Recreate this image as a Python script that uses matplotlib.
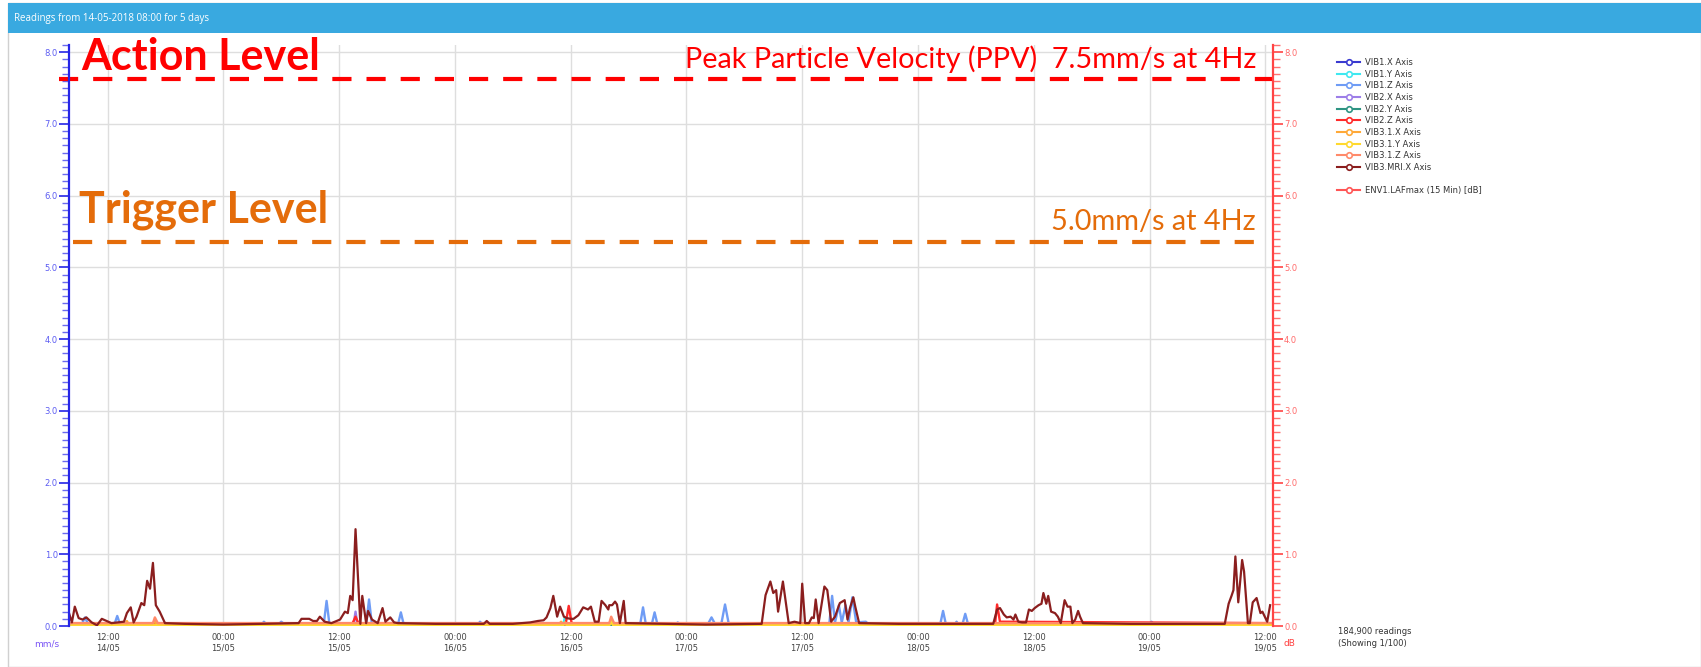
import matplotlib
matplotlib.use("Agg")
import matplotlib.pyplot as plt
import matplotlib.dates as mdates
from matplotlib.lines import Line2D
from matplotlib.patches import Rectangle
from matplotlib.ticker import MultipleLocator
import pandas as pd

W, H = 1701, 667
start = pd.Timestamp("2018-05-14 08:00")
end_hours = 124.8

# (hours since 14/05 08:00, mm/s)
vib1_x = [(0, 0.01), (124.8, 0.01)]
vib1_y = [(0, 0.01), (51.2, 0.01), (51.4, 0.12), (51.6, 0.01), (124.8, 0.01)]
vib1_z = [(0, 0.02), (1.3, 0.02), (1.66, 0.12), (2.0, 0.02), (4.7, 0.02), (5.0, 0.14), (5.3, 0.02),
          (20.0, 0.02), (20.2, 0.06), (20.5, 0.02), (21.7, 0.02), (22.0, 0.06), (22.4, 0.02),
          (26.4, 0.02), (26.7, 0.35), (27.0, 0.02), (30.8, 0.02), (31.1, 0.37), (31.4, 0.02),
          (34.1, 0.02), (34.4, 0.19), (34.7, 0.02), (42.4, 0.02), (42.6, 0.06), (42.9, 0.02),
          (59.2, 0.02), (59.5, 0.26), (59.8, 0.02), (60.4, 0.02), (60.7, 0.19), (61.0, 0.02),
          (62.9, 0.02), (63.1, 0.05), (63.3, 0.02), (66.2, 0.02), (66.6, 0.12), (67.0, 0.02),
          (67.6, 0.02), (68.0, 0.3), (68.4, 0.02), (78.8, 0.02), (79.1, 0.42), (79.4, 0.05),
          (79.8, 0.29), (80.1, 0.05), (80.5, 0.29), (80.8, 0.05), (81.2, 0.4), (81.6, 0.05),
          (82.6, 0.06), (82.9, 0.02), (90.3, 0.02), (90.6, 0.21), (90.9, 0.02), (91.8, 0.02),
          (92.0, 0.06), (92.2, 0.02), (92.6, 0.02), (92.9, 0.17), (93.2, 0.02), (112.0, 0.02),
          (112.2, 0.06), (112.5, 0.02), (124.8, 0.02)]
vib2_x = [(0, 0.02), (29.5, 0.02), (29.7, 0.2), (29.9, 0.02), (124.8, 0.02)]
vib2_y = [(0, 0.0), (124.8, 0.0)]
vib2_z = [(0, 0.04), (29.4, 0.04), (29.7, 0.13), (30.0, 0.04), (51.5, 0.04), (51.8, 0.28), (52.1, 0.04),
          (96.0, 0.04), (96.2, 0.3), (96.5, 0.06), (124.8, 0.04)]
vib31_x = [(0, 0.02), (5.8, 0.02), (6.0, 0.07), (6.2, 0.02), (8.7, 0.02), (8.9, 0.08), (9.1, 0.02),
           (50.8, 0.02), (51.0, 0.06), (51.2, 0.02), (56.0, 0.02), (56.2, 0.1), (56.4, 0.02), (124.8, 0.02)]
vib31_y = [(0, 0.01), (51.2, 0.01), (51.4, 0.05), (51.6, 0.01), (56.0, 0.01), (56.2, 0.06), (56.4, 0.01),
           (124.8, 0.01)]
vib31_z = [(0, 0.04), (8.7, 0.04), (8.9, 0.12), (9.2, 0.04), (56.0, 0.04), (56.2, 0.13), (56.5, 0.04),
           (124.8, 0.04)]
vib3_mri_x = [(0, 0.18), (0.3, 0.05), (0.6, 0.27), (1.0, 0.11), (1.4, 0.09), (1.8, 0.12), (2.35, 0.05),
              (2.9, 0.01), (3.4, 0.1), (3.9, 0.07), (4.4, 0.04), (5.1, 0.05), (5.7, 0.06), (6.0, 0.18),
              (6.4, 0.26), (6.7, 0.05), (7.0, 0.13), (7.5, 0.32), (7.8, 0.29), (8.1, 0.63), (8.4, 0.52),
              (8.7, 0.88), (9.0, 0.29), (9.4, 0.2), (9.95, 0.04), (12, 0.03), (16, 0.02), (20, 0.03),
              (23.8, 0.04), (24.1, 0.1), (24.9, 0.1), (25.3, 0.07), (25.7, 0.07), (26.0, 0.13),
              (26.5, 0.06), (27.2, 0.04), (28.1, 0.09), (28.6, 0.2), (28.9, 0.18), (29.15, 0.42),
              (29.4, 0.36), (29.7, 1.35), (30.0, 0.55), (30.2, 0.03), (30.4, 0.42), (30.8, 0.04),
              (31.0, 0.21), (31.4, 0.09), (32.0, 0.04), (32.5, 0.25), (32.8, 0.06), (33.3, 0.12),
              (33.7, 0.05), (34.1, 0.04), (38, 0.03), (43.0, 0.03), (43.3, 0.07), (43.6, 0.03),
              (46, 0.03), (47.8, 0.05), (48.6, 0.07), (49.2, 0.08), (49.5, 0.12), (49.9, 0.25),
              (50.2, 0.42), (50.6, 0.13), (50.9, 0.27), (51.3, 0.13), (51.6, 0.11), (52.0, 0.1),
              (52.3, 0.1), (52.8, 0.15), (53.3, 0.26), (53.8, 0.23), (54.1, 0.27), (54.5, 0.06),
              (54.9, 0.06), (55.2, 0.35), (55.6, 0.29), (55.9, 0.23), (56.0, 0.29), (56.3, 0.29),
              (56.6, 0.34), (56.8, 0.3), (57.1, 0.04), (57.5, 0.35), (57.7, 0.04), (62, 0.03),
              (66, 0.02), (71.8, 0.03), (72.2, 0.43), (72.7, 0.62), (73.0, 0.46), (73.3, 0.5),
              (73.5, 0.2), (74.0, 0.62), (74.4, 0.23), (74.6, 0.04), (75.2, 0.06), (75.8, 0.04),
              (76.0, 0.59), (76.3, 0.04), (76.7, 0.04), (77.0, 0.12), (77.2, 0.11), (77.4, 0.37),
              (77.7, 0.04), (78.0, 0.3), (78.3, 0.55), (78.6, 0.5), (79.0, 0.06), (79.4, 0.13),
              (79.9, 0.32), (80.4, 0.36), (80.7, 0.09), (80.95, 0.25), (81.3, 0.4), (81.5, 0.27),
              (81.9, 0.04), (86, 0.03), (90, 0.03), (95.8, 0.03), (96.2, 0.23), (96.5, 0.25),
              (96.9, 0.16), (97.2, 0.12), (97.6, 0.13), (97.9, 0.09), (98.1, 0.16), (98.4, 0.06),
              (98.8, 0.05), (99.2, 0.05), (99.5, 0.23), (99.8, 0.21), (100.1, 0.25), (100.5, 0.29),
              (100.8, 0.31), (101.0, 0.46), (101.3, 0.31), (101.5, 0.42), (101.8, 0.2), (102.2, 0.18),
              (102.5, 0.13), (102.8, 0.04), (103.2, 0.36), (103.5, 0.27), (103.8, 0.27), (104.0, 0.04),
              (104.3, 0.09), (104.6, 0.21), (104.8, 0.13), (105.1, 0.04), (110, 0.03), (115, 0.03),
              (119.8, 0.03), (120.2, 0.31), (120.5, 0.42), (120.7, 0.5), (120.9, 0.97), (121.2, 0.33),
              (121.6, 0.92), (121.8, 0.76), (122.2, 0.04), (122.4, 0.04), (122.7, 0.33), (123.1, 0.39),
              (123.5, 0.18), (123.7, 0.2), (124.2, 0.06), (124.5, 0.29)]
env1_lafmax = []  # dB, nothing visible

series_names = ["VIB1.X Axis", "VIB1.Y Axis", "VIB1.Z Axis", "VIB2.X Axis", "VIB2.Y Axis",
                "VIB2.Z Axis", "VIB3.1.X Axis", "VIB3.1.Y Axis", "VIB3.1.Z Axis", "VIB3.MRI.X Axis"]
series_data = [vib1_x, vib1_y, vib1_z, vib2_x, vib2_y, vib2_z, vib31_x, vib31_y, vib31_z, vib3_mri_x]
series_colors = ["#3a3ad0", "#3fe8f0", "#6f9cf5", "#9d7ee8", "#2e9483", "#ff2a2a",
                 "#ffa938", "#ffd92e", "#ff8a6a", "#8b1e1e"]

action_level = 7.63
trigger_level = 5.36


def times(pts):
    return [start + pd.Timedelta(hours=h) for h, _ in pts], [v for _, v in pts]


fig = plt.figure(figsize=(W / 100, H / 100), dpi=100)

# page frame + header bar (behind the axes)
fig.patches.append(Rectangle((8 / W, 0), 1 - 8 / W, 1 - 3 / H, transform=fig.transFigure,
                             facecolor="white", edgecolor="#d0d0d0", lw=1, zorder=-2))
fig.patches.append(Rectangle((8 / W, 1 - 33 / H), 1 - 8 / W, 30 / H, transform=fig.transFigure,
                             facecolor="#39a9e0", edgecolor="none", zorder=-1))
fig.text(14 / W, 1 - 19 / H, "Readings from 14-05-2018 08:00 for 5 days", color="white",
         fontsize=7, family="Open Sans", va="center")

ax = fig.add_axes([69 / W, 1 - 626 / H, (1273 - 69) / W, (626 - 45) / H])
ax.patch.set_alpha(0)
handles = []
for name, pts, c in zip(series_names, series_data, series_colors):
    t, v = times(pts)
    lw = 1.6 if name == "VIB3.MRI.X Axis" else 1.7
    ax.plot(t, v, color=c, lw=lw, solid_joinstyle="round")
    handles.append(Line2D([], [], color=c, lw=1.5, marker="o", ms=4, mfc="white", mec=c, mew=1.2))

ax.set_xlim(start, start + pd.Timedelta(hours=end_hours))
ax.set_ylim(0, 8.1)
ax.xaxis.set_major_locator(mdates.HourLocator(byhour=[0, 12]))
ax.xaxis.set_major_formatter(mdates.DateFormatter("%H:%M\n%d/%m"))
ax.yaxis.set_major_locator(MultipleLocator(1))
ax.yaxis.set_minor_locator(MultipleLocator(0.1))
ax.yaxis.set_major_formatter(lambda v, p: f"{v:.1f}")
ax.grid(True, color="#dedede", lw=1.0)
ax.set_axisbelow(True)
for s in ["top", "bottom", "right"]:
    ax.spines[s].set_visible(False)
ax.spines["left"].set_color("#2525e6")
ax.spines["left"].set_linewidth(1.6)
ax.tick_params(axis="x", length=0, labelsize=6, labelcolor="#444444", pad=5)
ax.tick_params(axis="y", which="major", length=7, width=1.2, color="#2525e6",
               labelsize=6, labelcolor="#5c5cf2", pad=1)
ax.tick_params(axis="y", which="minor", length=5, width=1, color="#6a6af0")

ax2 = ax.twinx()
ax2.plot([], [], color="#ff5050")
ax2.set_ylim(0, 8.1)
ax2.yaxis.set_major_locator(MultipleLocator(1))
ax2.yaxis.set_minor_locator(MultipleLocator(0.1))
ax2.yaxis.set_major_formatter(lambda v, p: f"{v:.1f}")
for s in ["top", "bottom", "left"]:
    ax2.spines[s].set_visible(False)
ax2.spines["right"].set_color("#ff4444")
ax2.spines["right"].set_linewidth(1.6)
ax2.tick_params(axis="y", which="major", length=7, width=1.2, color="#ff4444",
                labelsize=6, labelcolor="#ff6b6b", pad=1)
ax2.tick_params(axis="y", which="minor", length=5, width=1, color="#ff7070")

fig.text(47 / W, 1 - 644 / H, "mm/s", color="#7b55f5", fontsize=6.5, ha="center", va="center")
fig.text(1289 / W, 1 - 644 / H, "dB", color="#ff4040", fontsize=6.5, ha="center", va="center")

# threshold annotations
ax.axhline(action_level, xmin=-0.008, xmax=1.012, color="#ff0000", lw=3,
           dashes=(4.6, 3.6), clip_on=False)
ax.axhline(trigger_level, xmin=0.003, xmax=0.996, color="#e46c0a", lw=3,
           dashes=(4.6, 3.6), clip_on=False)
fig.text(81 / W, 1 - 70 / H, "Action Level", color="#ff0000", fontsize=31,
         family="Lato", weight="bold", va="baseline")
fig.text(79 / W, 1 - 223 / H, "Trigger Level", color="#e46c0a", fontsize=31,
         family="Lato", weight="bold", va="baseline")
fig.text(1256 / W, 1 - 68 / H, "Peak Particle Velocity (PPV)  7.5mm/s at 4Hz", color="#ff0000",
         fontsize=20.8, family="Lato", ha="right", va="baseline")
fig.text(1256 / W, 1 - 230 / H, "5.0mm/s at 4Hz", color="#e46c0a",
         fontsize=20.8, family="Lato", ha="right", va="baseline")

# legend
env_handle = Line2D([], [], color="#ff5555", lw=1.5, marker="o", ms=4, mfc="white", mec="#ff5555", mew=1.2)
blank = Line2D([], [], color="none")
fig.legend(handles + [blank, env_handle], series_names + [" ", "ENV1.LAFmax (15 Min) [dB]"],
           loc="upper left", bbox_to_anchor=(1337 / W, 1 - 58 / H), frameon=False, fontsize=6,
           labelspacing=0.32, handlelength=2.8, handletextpad=0.5, borderpad=0, borderaxespad=0,
           labelcolor="#333333")

fig.text(1338 / W, 1 - 632 / H, "184,900 readings", fontsize=6, color="#333333", va="center")
fig.text(1338 / W, 1 - 643 / H, "(Showing 1/100)", fontsize=6, color="#333333", va="center")

fig.savefig("out.png", dpi=100)
